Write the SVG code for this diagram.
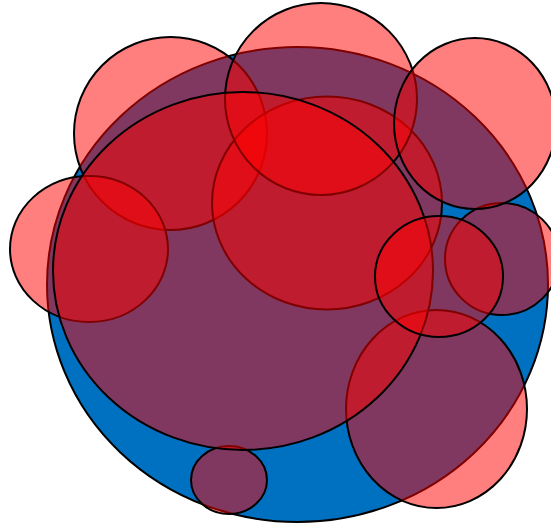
<svg xmlns="http://www.w3.org/2000/svg" width="551" height="525" viewBox="0 0 551 525">
<style>
.base{fill:#0070c0;stroke:#000;stroke-width:2}
.red{fill:#ff0000;fill-opacity:0.5;stroke:#000;stroke-width:2}
</style>
<rect width="551" height="525" fill="#fff"/>
<g id="blue"><ellipse class="base" cx="297.5" cy="284.5" rx="250.5" ry="237.5"/></g>
<g id="c-topleft"><circle class="red" cx="170.5" cy="133.5" r="96.5"/></g>
<g id="c-left"><ellipse class="red" cx="89" cy="249" rx="79" ry="73"/></g>
<g id="c-middle"><ellipse class="red" cx="327" cy="203" rx="115" ry="106.5"/></g>
<g id="c-top"><circle class="red" cx="321" cy="99" r="96"/></g>
<g id="c-bottom-small"><ellipse class="red" cx="229" cy="480" rx="38" ry="34"/></g>
<g id="c-bottom-right"><ellipse class="red" cx="436.5" cy="409" rx="90.5" ry="99"/></g>
<g id="c-right"><ellipse class="red" cx="502" cy="259" rx="57" ry="56"/></g>
<g id="c-topright"><ellipse class="red" cx="475" cy="123.5" rx="81" ry="85.5"/></g>
<g id="c-big"><ellipse class="red" cx="243" cy="271" rx="190" ry="179"/></g>
<g id="c-small-right"><ellipse class="red" cx="439" cy="276.5" rx="64" ry="60.5"/></g>
<g id="connectors"/>
</svg>
